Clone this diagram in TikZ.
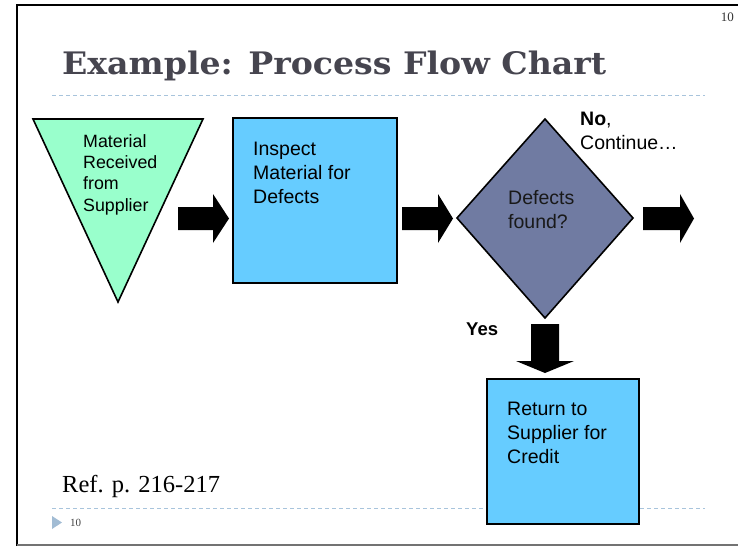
\documentclass[tikz,border=0pt]{standalone}
\usepackage{fontspec}
\setmainfont{Liberation Sans}
\newfontfamily\titlefont{DejaVu Serif}
\newfontfamily\timesfont{Liberation Serif}
\definecolor{mint}{HTML}{99FFCC}
\definecolor{boxblue}{HTML}{66CCFF}
\definecolor{diamondcol}{HTML}{707BA2}
\definecolor{titlecol}{HTML}{46454F}
\definecolor{dashcol}{HTML}{A8C4DC}
\definecolor{markercol}{HTML}{A2BCD4}
\tikzset{
  shapeline/.style={draw=black, line width=1.6pt, line join=miter},
  blockarrow/.style={fill=black, draw=none},
  lbl/.style={inner sep=0pt, anchor=base west, align=left},
  boxtext/.style={lbl, font=\fontsize{19.5}{24}\selectfont},
  tritext/.style={lbl, font=\fontsize{17.8}{21.3}\selectfont},
  sep/.style={draw=dashcol, line width=0.8pt, dash pattern=on 4pt off 3pt},
}
\begin{document}
\begin{tikzpicture}[x=1pt,y=-1pt]
\useasboundingbox (0,0) rectangle (738,546);
% frame
\draw[line width=2.5pt] (17,546) -- (17,5) -- (738,5);
\draw[black!55, line width=2pt] (17,545) -- (738,545);
% page numbers
\node[inner sep=0pt, anchor=base east, font=\timesfont\fontsize{13}{15}\selectfont, text=black!80] (pgtop) at (734,21) {10};
% title
\node[inner sep=0pt, anchor=base west, font=\titlefont\bfseries\fontsize{31}{36}\selectfont, text=titlecol] (title) at (62,74) {\scalebox{1.07}[1]{Example: Process Flow Chart}};
% separators
\draw[sep] (52,95) -- (705,95);
\draw[sep] (52,508) -- (705,508);
% triangle
\coordinate (t1) at (33,119);
\coordinate (t2) at (203,119);
\coordinate (t3) at (118,302);
\draw[shapeline, fill=mint] (t1) -- (t2) -- (t3) -- cycle;
\node[tritext] (tritxt) at (83,211) {Material\\Received\\from\\Supplier};
% arrow 1
\fill[blockarrow] (178,207) -- (213,207) -- (213,194) -- (229,218.5) -- (213,243) -- (213,230) -- (178,230) -- cycle;
% box 1
\draw[shapeline, fill=boxblue] (233,118) rectangle (397,283);
\node[boxtext] (inspect) at (253,203) {Inspect\\Material for\\Defects};
% arrow 2
\fill[blockarrow] (402,207) -- (438,207) -- (438,194) -- (453,218.5) -- (438,243) -- (438,230) -- (402,230) -- cycle;
% diamond
\coordinate (dl) at (457,218);
\coordinate (dt) at (545,119);
\coordinate (dr) at (633,218);
\coordinate (db) at (545,318);
\draw[shapeline, fill=diamondcol] (dl) -- (dt) -- (dr) -- (db) -- cycle;
\node[boxtext, text=black!90] (defects) at (508,228) {Defects\\found?};
% no / continue
\node[lbl, font=\fontsize{19.5}{24}\selectfont] (no) at (580,125) {\textbf{No},};
\node[lbl, font=\fontsize{19.5}{24}\selectfont] (cont) at (580,149) {Continue…};
% arrow 3
\fill[blockarrow] (643,207) -- (680,207) -- (680,194) -- (694,218.5) -- (680,243) -- (680,230) -- (643,230) -- cycle;
% yes
\node[lbl, font=\bfseries\fontsize{18.5}{24}\selectfont] (yes) at (466,335) {Yes};
% down arrow
\fill[blockarrow] (531,324) -- (559,324) -- (559,361) -- (574,361) -- (545,373) -- (516,361) -- (531,361) -- cycle;
% box 2
\draw[shapeline, fill=boxblue] (487,379) rectangle (639,524);
\node[boxtext] (ret) at (507,463) {Return to\\Supplier for\\Credit};
% ref
\node[inner sep=0pt, anchor=base west, font=\timesfont\fontsize{24.5}{28}\selectfont] (ref) at (62,492) {Ref. p. 216-217};
% footer
\fill[markercol] (52,516) -- (62,522.5) -- (52,529) -- cycle;
\node[inner sep=0pt, anchor=base west, font=\timesfont\fontsize{11}{13}\selectfont, text=black!75] (pgbot) at (70,526) {10};
\end{tikzpicture}
\end{document}
